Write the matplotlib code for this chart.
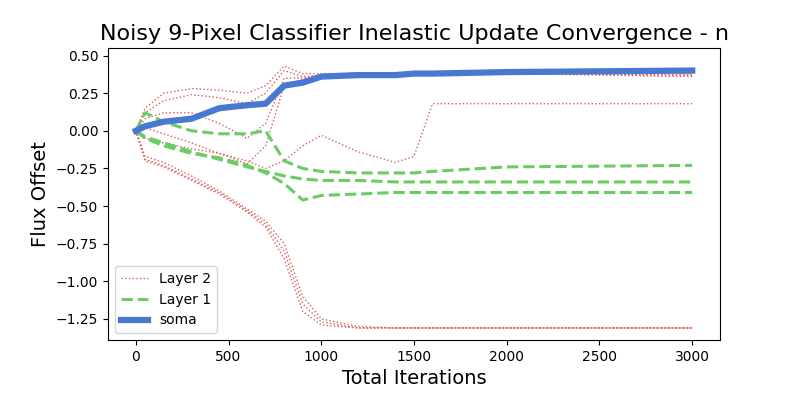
import matplotlib
matplotlib.use("Agg")
import matplotlib.pyplot as plt

# keypoints
iters = [0, 50, 150, 300, 450, 600, 700, 800, 900, 1000, 1200, 1400, 1500, 1600, 2000, 3000]

layer2 = [
    [0, 0.15, 0.25, 0.28, 0.27, 0.25, 0.30, 0.43, 0.38, 0.38, 0.38, 0.38, 0.38, 0.38, 0.39, 0.38],
    [0, 0.12, 0.20, 0.24, 0.22, 0.18, 0.25, 0.40, 0.36, 0.37, 0.37, 0.38, 0.38, 0.38, 0.38, 0.37],
    [0, 0.08, 0.12, 0.12, 0.05, -0.05, 0.05, 0.35, 0.35, 0.37, 0.37, 0.38, 0.38, 0.38, 0.38, 0.36],
    [0, 0.02, -0.02, -0.08, -0.15, -0.22, -0.10, 0.30, 0.34, 0.37, 0.37, 0.38, 0.38, 0.38, 0.38, 0.37],
    [0, -0.05, -0.08, -0.12, -0.15, -0.20, -0.25, -0.20, -0.10, -0.03, -0.14, -0.21, -0.17, 0.18, 0.18, 0.18],
    [0, -0.17, -0.21, -0.30, -0.40, -0.52, -0.60, -0.75, -1.10, -1.25, -1.30, -1.31, -1.31, -1.31, -1.31, -1.31],
    [0, -0.19, -0.23, -0.32, -0.41, -0.53, -0.62, -0.80, -1.15, -1.27, -1.31, -1.31, -1.31, -1.31, -1.31, -1.31],
    [0, -0.20, -0.24, -0.33, -0.42, -0.54, -0.64, -0.85, -1.20, -1.29, -1.31, -1.31, -1.31, -1.31, -1.31, -1.31],
]

layer1 = [
    [0, 0.12, 0.06, 0.0, -0.02, -0.02, 0.0, -0.20, -0.25, -0.27, -0.28, -0.28, -0.28, -0.27, -0.24, -0.23],
    [0, -0.04, -0.08, -0.14, -0.19, -0.24, -0.27, -0.30, -0.32, -0.33, -0.33, -0.34, -0.34, -0.34, -0.34, -0.34],
    [0, -0.05, -0.10, -0.15, -0.18, -0.23, -0.28, -0.35, -0.46, -0.43, -0.42, -0.41, -0.41, -0.41, -0.41, -0.41],
]

soma = [0, 0.03, 0.06, 0.08, 0.15, 0.17, 0.18, 0.30, 0.32, 0.36, 0.37, 0.37, 0.38, 0.38, 0.39, 0.40]

red = '#d65f5f'
green = '#6acc64'
blue = '#4878d0'

fig, ax = plt.subplots(figsize=(8, 4), dpi=100)
for i, y in enumerate(layer2):
    ax.plot(iters, y, color=red, linestyle=':', lw=1, label='Layer 2' if i == 0 else None)
for i, y in enumerate(layer1):
    ax.plot(iters, y, color=green, linestyle='--', lw=2.2, label='Layer 1' if i == 0 else None)
ax.plot(iters, soma, color=blue, lw=4.5, label='soma')

ax.set_title('Noisy 9-Pixel Classifier Inelastic Update Convergence - n', fontsize=16)
ax.set_xlabel('Total Iterations', fontsize=14)
ax.set_ylabel('Flux Offset', fontsize=14)
ax.set_xticks([0, 500, 1000, 1500, 2000, 2500, 3000])
ax.set_yticks([0.5, 0.25, 0, -0.25, -0.5, -0.75, -1.0, -1.25])
ax.set_ylim(-1.39, 0.55)
ax.set_xlim(-150, 3150)
ax.legend(loc='lower left')
fig.subplots_adjust(left=0.135, right=0.9, top=0.88, bottom=0.15)
fig.savefig('out.png')
